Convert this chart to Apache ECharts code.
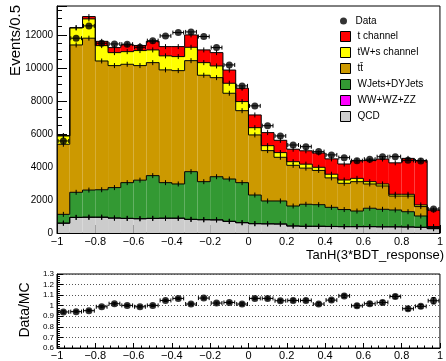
<!DOCTYPE html>
<html><head><meta charset="utf-8">
<script src="https://cdn.jsdelivr.net/npm/echarts@6/dist/echarts.min.js"></script>
<style>html,body{margin:0;padding:0;background:#fff}#c{width:446px;height:361px}</style>
</head><body><div id="c"></div>
<script>
// ---- binning ----
const nBins = 30, xLo = -1, xHi = 1;
// ---- stacked MC components (events per bin), bottom -> top ----
const qcd   = [590, 940, 950, 950, 900, 880, 860, 880, 890, 890, 820, 800, 790, 700, 620, 560, 550, 540, 420, 400, 400, 390, 380, 380, 380, 370, 370, 360, 340, 260];
const vv    = [10, 10, 10, 10, 10, 10, 10, 10, 10, 10, 10, 10, 10, 10, 10, 10, 10, 10, 10, 10, 10, 10, 10, 10, 10, 10, 10, 10, 10, 10];
const wjets = [530, 1515, 1640, 1660, 1840, 2160, 2330, 2585, 2150, 2070, 2885, 2300, 2610, 2560, 2420, 1730, 1380, 1390, 1205, 1330, 1305, 1155, 1030, 940, 1110, 1055, 1015, 920, 680, 40];
const ttbar = [4245, 8925, 9200, 7800, 7390, 7170, 6940, 6845, 6830, 6865, 6725, 6445, 6000, 5195, 4360, 3640, 3050, 2645, 2465, 2190, 2075, 1785, 1590, 1780, 1470, 1415, 845, 950, 570, 30];
const twch  = [505, 1030, 1170, 930, 785, 765, 910, 770, 850, 850, 810, 765, 710, 605, 550, 440, 300, 285, 220, 240, 190, 220, 200, 200, 140, 120, 105, 105, 100, 50];
const tch   = [20, 20, 140, 260, 305, 415, 310, 520, 560, 605, 750, 770, 805, 800, 810, 770, 790, 745, 755, 810, 870, 930, 970, 1070, 1280, 1510, 1905, 2175, 2690, 1000];
// ---- observed data ----
const dataObs = [5575, 11800, 12545, 11495, 11450, 11435, 11250, 11650, 11940, 12140, 12180, 11900, 11230, 10180, 8910, 7700, 6500, 5880, 5330, 5230, 4930, 4730, 4565, 4380, 4470, 4620, 4625, 4400, 4365, 1455];
// ---- ratio panel ----
const ratio    = [0.941, 0.944, 0.953, 0.99, 1.019, 1.003, 0.99, 1.003, 1.05, 1.069, 1.016, 1.072, 1.025, 1.031, 1.016, 1.069, 1.069, 1.047, 1.05, 1.05, 1.016, 1.053, 1.093, 1.0, 1.019, 1.031, 1.087, 0.972, 0.994, 1.047];
const ratioErr = [0.012, 0.01, 0.01, 0.01, 0.01, 0.01, 0.01, 0.01, 0.01, 0.01, 0.01, 0.01, 0.01, 0.01, 0.012, 0.012, 0.013, 0.013, 0.014, 0.014, 0.015, 0.015, 0.016, 0.016, 0.016, 0.016, 0.016, 0.017, 0.017, 0.03];
// ---- legend / labels ----
const layerNames  = ['QCD', 'WW+WZ+ZZ', 'WJets+DYJets', 't\u0074\u0304', 'tW+s channel', 't channel'];
const layerColors = ['#cccccc', '#ff00ff', '#339933', '#cc9900', '#ffff00', '#ff0000'];
const legendOrder = ['t channel', 'tW+s channel', 't\u0074\u0304', 'WJets+DYJets', 'WW+WZ+ZZ', 'QCD'];

const edges = Array.from({length: nBins + 1}, (_, i) => xLo + i * (xHi - xLo) / nBins);
const layers = [qcd, vv, wjets, ttbar, twch, tch];

function fmtX(v) {
  const r = Math.round(v * 10) / 10;
  return String(r).replace('-', '\u2212');
}

const series = [];
let base = new Array(nBins).fill(0);
layers.forEach((vals, li) => {
  const b = base.slice();
  const top = b.map((x, i) => x + vals[i]);
  const color = layerColors[li];
  const items = vals.map((v, i) => [edges[i], edges[i + 1], b[i], top[i], i > 0 ? top[i - 1] : 0, i === nBins - 1 ? 1 : 0]);
  series.push({
    type: 'custom', name: layerNames[li], xAxisIndex: 0, yAxisIndex: 0, z: 2 + li,
    itemStyle: {color: color, borderColor: '#000', borderWidth: 1},
    data: items, encode: {x: [0, 1], y: [2, 3]}, clip: true, silent: true,
    renderItem: (params, api) => {
      const p0 = api.coord([api.value(0), api.value(2)]);
      const p1 = api.coord([api.value(1), api.value(3)]);
      return {type: 'rect', shape: {x: p0[0], y: p1[1], width: p1[0] - p0[0], height: p0[1] - p1[1]}, style: {fill: color}};
    }
  });
  series.push({
    type: 'custom', name: 'outline' + li, xAxisIndex: 0, yAxisIndex: 0, z: 20,
    data: items, encode: {x: [0, 1], y: [3]}, clip: true, silent: true,
    renderItem: (params, api) => {
      const lo = api.value(0), hi = api.value(1), t = api.value(3), pt = api.value(4), last = api.value(5);
      const a = api.coord([lo, pt]), b2 = api.coord([lo, t]), c = api.coord([hi, t]);
      const pts = [a, b2, c];
      if (last) pts.push(api.coord([hi, 0]));
      const m = api.coord([(lo + hi) / 2, t]);
      return {type: 'group', children: [
        {type: 'polyline', shape: {points: pts}, style: {stroke: '#000', lineWidth: 1, fill: null}},
        {type: 'line', shape: {x1: m[0], y1: m[1] - 2.5, x2: m[0], y2: m[1] + 2.5}, style: {stroke: '#000', lineWidth: 1}}
      ]};
    }
  });
  base = top;
});

function errBars(xi, yi, vals, errs) {
  return {
    type: 'custom', xAxisIndex: xi, yAxisIndex: yi, z: 30, silent: true,
    data: vals.map((v, i) => [edges[i], edges[i + 1], v, errs ? errs[i] : 0]),
    encode: {x: [0, 1], y: [2]}, clip: true,
    renderItem: (params, api) => {
      const lo = api.value(0), hi = api.value(1), v = api.value(2), e = api.value(3);
      const pl = api.coord([lo, v]), ph = api.coord([hi, v]);
      const ch = [
        {type: 'line', shape: {x1: pl[0] + 1, y1: pl[1], x2: ph[0] - 1, y2: ph[1]}, style: {stroke: '#000', lineWidth: 1}},
        {type: 'line', shape: {x1: pl[0] + 1, y1: pl[1] - 2, x2: pl[0] + 1, y2: pl[1] + 2}, style: {stroke: '#000', lineWidth: 1}},
        {type: 'line', shape: {x1: ph[0] - 1, y1: ph[1] - 2, x2: ph[0] - 1, y2: ph[1] + 2}, style: {stroke: '#000', lineWidth: 1}}
      ];
      if (e > 0) {
        const xc = (lo + hi) / 2;
        const u = api.coord([xc, v + e]), d = api.coord([xc, v - e]);
        ch.push({type: 'line', shape: {x1: u[0], y1: u[1], x2: d[0], y2: d[1]}, style: {stroke: '#000', lineWidth: 1}});
        ch.push({type: 'line', shape: {x1: u[0] - 2, y1: u[1], x2: u[0] + 2, y2: u[1]}, style: {stroke: '#000', lineWidth: 1}});
        ch.push({type: 'line', shape: {x1: d[0] - 2, y1: d[1], x2: d[0] + 2, y2: d[1]}, style: {stroke: '#000', lineWidth: 1}});
      }
      return {type: 'group', children: ch};
    }
  };
}
series.push(errBars(0, 0, dataObs, null));
series.push({
  type: 'scatter', name: 'Data', xAxisIndex: 0, yAxisIndex: 0, z: 40, symbol: 'circle', symbolSize: 7,
  itemStyle: {color: '#000'}, silent: true,
  data: dataObs.map((v, i) => [(edges[i] + edges[i + 1]) / 2, v])
});
series.push(errBars(1, 1, ratio, ratioErr));
series.push({
  type: 'scatter', name: 'ratio', xAxisIndex: 1, yAxisIndex: 1, z: 40, symbol: 'circle', symbolSize: 7,
  itemStyle: {color: '#000'}, silent: true,
  data: ratio.map((v, i) => [(edges[i] + edges[i + 1]) / 2, v])
});

const FONT = 'Liberation Sans';
const axisCommon = {
  axisLine: {show: true, onZero: false, lineStyle: {color: '#000', width: 1}},
  splitLine: {show: false},
};

const option = {
  animation: false,
  backgroundColor: '#fff',
  textStyle: {fontFamily: FONT},
  grid: [
    {left: 57, right: 2, top: 6, height: 227, show: true, borderColor: '#000', borderWidth: 1, backgroundColor: 'transparent'},
    {left: 57, right: 2, top: 274, height: 75, show: true, borderColor: '#000', borderWidth: 1, backgroundColor: 'transparent'}
  ],
  xAxis: [
    Object.assign({}, axisCommon, {gridIndex: 0, type: 'value', min: xLo, max: xHi, interval: 0.2,
      axisTick: {show: true, inside: true, length: 8, lineStyle: {color: '#000'}},
      minorTick: {show: true, splitNumber: 5, length: 4, lineStyle: {color: '#000'}},
      axisLabel: {formatter: fmtX, fontSize: 11, color: '#000', margin: 3, fontFamily: FONT}}),
    Object.assign({}, axisCommon, {gridIndex: 1, type: 'value', min: xLo, max: xHi, interval: 0.2,
      axisTick: {show: true, inside: true, length: 5, lineStyle: {color: '#000'}},
      minorTick: {show: true, splitNumber: 5, length: 2.5, lineStyle: {color: '#000'}},
      axisLabel: {formatter: fmtX, fontSize: 11, color: '#000', margin: 2, fontFamily: FONT}})
  ],
  yAxis: [
    Object.assign({}, axisCommon, {gridIndex: 0, type: 'value', min: 0, max: 13750, interval: 2000,
      axisTick: {show: true, inside: true, length: 10, lineStyle: {color: '#000'}},
      minorTick: {show: true, splitNumber: 4, length: 5, lineStyle: {color: '#000'}},
      axisLabel: {formatter: v => (v % 2000 === 0 ? String(v) : ''), showMaxLabel: false, fontSize: 10, color: '#000', margin: 4, fontFamily: FONT}}),
    Object.assign({}, axisCommon, {gridIndex: 1, type: 'value', min: 0.6, max: 1.3, interval: 0.1,
      axisTick: {show: true, inside: true, length: 6, lineStyle: {color: '#000'}},
      minorTick: {show: true, splitNumber: 5, length: 3, lineStyle: {color: '#000'}},
      splitLine: {show: true, lineStyle: {color: '#555', type: [1, 2], width: 1}},
      axisLabel: {formatter: v => String(Number(v.toFixed(1))), fontSize: 8, color: '#000', margin: 3, fontFamily: FONT}})
  ],
  legend: [
    {data: [{name: 'Data', icon: 'circle'}], orient: 'vertical', left: 340, top: 16, padding: 0, itemWidth: 10, itemHeight: 7,
      textStyle: {fontSize: 10, color: '#000', fontFamily: FONT, padding: [0, 0, 0, 2]}, selectedMode: false},
    {data: legendOrder.map(n => ({name: n, icon: 'rect'})), orient: 'vertical', left: 340, top: 31, padding: 0, itemWidth: 10, itemHeight: 10, itemGap: 5,
      itemStyle: {borderColor: '#000', borderWidth: 1},
      textStyle: {fontSize: 10, color: '#000', fontFamily: FONT, padding: [0, 0, 0, 2]}, selectedMode: false}
  ],
  graphic: [
    {type: 'text', x: 16, y: 5, rotation: Math.PI / 2, style: {text: 'Events/0.5', fontSize: 15, fontFamily: FONT, fill: '#000', align: 'right', verticalAlign: 'middle'}},
    {type: 'text', x: 444, y: 255, style: {text: 'TanH(3*BDT_response)', fontSize: 13, fontFamily: FONT, fill: '#000', align: 'right', verticalAlign: 'middle'}},
    {type: 'text', x: 25, y: 310, rotation: Math.PI / 2, style: {text: 'Data/MC', fontSize: 14, fontFamily: FONT, fill: '#000', align: 'center', verticalAlign: 'middle'}}
  ],
  series: series
};
const chart = echarts.init(document.getElementById('c'), null, {renderer: 'canvas'});
chart.setOption(option);
</script></body></html>
